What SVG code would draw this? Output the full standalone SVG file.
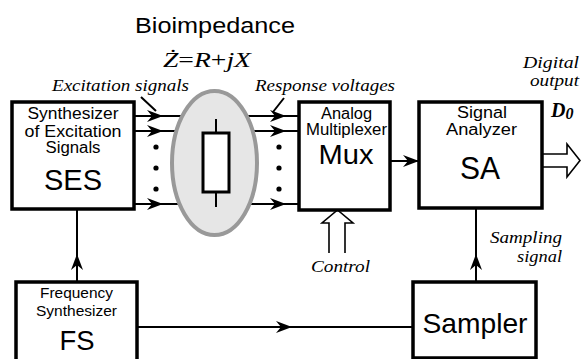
<svg xmlns="http://www.w3.org/2000/svg" xmlns:xlink="http://www.w3.org/1999/xlink" width="581" height="359" viewBox="0 0 581 359">
<style>
.box{fill:#fff;stroke:#000;stroke-width:3.5}
.ln{fill:none;stroke:#000;stroke-width:2}
.hollow{fill:#fff;stroke:#000;stroke-width:1.6}
.sans{font-family:"Liberation Sans",Arial,sans-serif;fill:#000}
.ital{font-family:"Liberation Serif","Times New Roman",serif;font-style:italic;fill:#000}
.up{font-style:normal}
</style>
<defs>
<path id="ah" d="M0,0 L-16,-6 L-11,0 L-16,6 Z" fill="#000"/>
<circle id="dot" r="2.6" fill="#000"/>
</defs>
<rect width="581" height="359" fill="#fff"/>

<g id="connectors">
<path class="ln" d="M134,116 H215 M134,131 H215 M134,204 H215"/>
<path class="ln" d="M215,116 H299 M215,131 H299 M215,204 H299"/>
<path class="ln" d="M390,161 H419"/>
<path class="ln" d="M77,209 V282"/>
<path class="ln" d="M137,327 H413"/>
<path class="ln" d="M476,208 V282"/>
<path class="ln" stroke-width="1.2" d="M141,97 L156,111 M284,98 L273,112"/>
<use xlink:href="#ah" transform="translate(163,116)"/>
<use xlink:href="#ah" transform="translate(163,131)"/>
<use xlink:href="#ah" transform="translate(163,204)"/>
<use xlink:href="#ah" transform="translate(286,116)"/>
<use xlink:href="#ah" transform="translate(286,131)"/>
<use xlink:href="#ah" transform="translate(286,204)"/>
<use xlink:href="#ah" transform="translate(419,161)"/>
<use xlink:href="#ah" transform="translate(77,254) rotate(-90)"/>
<use xlink:href="#ah" transform="translate(292,327)"/>
<use xlink:href="#ah" transform="translate(476,254) rotate(-90)"/>
<use xlink:href="#dot" x="156" y="147"/>
<use xlink:href="#dot" x="156" y="168"/>
<use xlink:href="#dot" x="156" y="189"/>
<use xlink:href="#dot" x="279" y="147"/>
<use xlink:href="#dot" x="279" y="168"/>
<use xlink:href="#dot" x="279" y="189"/>
<path class="hollow" d="M329,253 V223 H322 L337.5,210 L353,223 H345 V253"/>
<path class="hollow" d="M542,154 H567 V144 L580,160.5 L567,177 V167 H542"/>
</g>

<g id="bioimpedance">
<ellipse cx="214.5" cy="163" rx="42.5" ry="72" fill="#e6e6e6" stroke="#999" stroke-width="4"/>
<path class="ln" d="M216,119 V133 M216,192 V207"/>
<rect x="203" y="133" width="26" height="59" fill="#fff" stroke="#000" stroke-width="3"/>
<text class="sans" x="135" y="33" font-size="22" textLength="160" lengthAdjust="spacingAndGlyphs">Bioimpedance</text>
<text class="ital" x="163" y="67" font-size="21" textLength="88" lengthAdjust="spacingAndGlyphs">Ż<tspan class="up">=</tspan>R<tspan class="up">+</tspan>jX</text>
</g>

<g id="ses">
<rect class="box" x="12" y="102" width="122" height="107"/>
<text class="sans" x="73" y="119" font-size="16" text-anchor="middle" textLength="91" lengthAdjust="spacingAndGlyphs">Synthesizer</text>
<text class="sans" x="73" y="137" font-size="16" text-anchor="middle" textLength="97" lengthAdjust="spacingAndGlyphs">of Excitation</text>
<text class="sans" x="73" y="153" font-size="16" text-anchor="middle" textLength="55" lengthAdjust="spacingAndGlyphs">Signals</text>
<text class="sans" x="73" y="190" font-size="30" text-anchor="middle" textLength="58" lengthAdjust="spacingAndGlyphs">SES</text>
</g>

<g id="mux">
<rect class="box" x="299" y="102" width="91" height="108"/>
<text class="sans" x="346.5" y="119" font-size="16" text-anchor="middle" textLength="51" lengthAdjust="spacingAndGlyphs">Analog</text>
<text class="sans" x="346.5" y="135" font-size="16" text-anchor="middle" textLength="81" lengthAdjust="spacingAndGlyphs">Multiplexer</text>
<text class="sans" x="346" y="164" font-size="27" text-anchor="middle" textLength="55" lengthAdjust="spacingAndGlyphs">Mux</text>
</g>

<g id="sa">
<rect class="box" x="419" y="102" width="123" height="106"/>
<text class="sans" x="482" y="118" font-size="16" text-anchor="middle" textLength="50" lengthAdjust="spacingAndGlyphs">Signal</text>
<text class="sans" x="481.5" y="135" font-size="16" text-anchor="middle" textLength="71" lengthAdjust="spacingAndGlyphs">Analyzer</text>
<text class="sans" x="480" y="179" font-size="32" text-anchor="middle" textLength="40" lengthAdjust="spacingAndGlyphs">SA</text>
</g>

<g id="fs">
<rect class="box" x="16" y="282" width="121" height="82"/>
<text class="sans" x="76.5" y="298" font-size="14" text-anchor="middle" textLength="73" lengthAdjust="spacingAndGlyphs">Frequency</text>
<text class="sans" x="76.5" y="316" font-size="14" text-anchor="middle" textLength="81" lengthAdjust="spacingAndGlyphs">Synthesizer</text>
<text class="sans" x="77" y="350" font-size="28" text-anchor="middle" textLength="35" lengthAdjust="spacingAndGlyphs">FS</text>
</g>

<g id="sampler">
<rect class="box" x="413" y="282" width="123" height="76" stroke-width="3"/>
<text class="sans" x="475" y="333" font-size="28" text-anchor="middle" textLength="105" lengthAdjust="spacingAndGlyphs">Sampler</text>
</g>

<g id="labels">
<text class="ital" x="52" y="91" font-size="16" textLength="137" lengthAdjust="spacingAndGlyphs">Excitation signals</text>
<text class="ital" x="255" y="91" font-size="16" textLength="140" lengthAdjust="spacingAndGlyphs">Response voltages</text>
<text class="ital" x="523" y="68" font-size="17" textLength="56" lengthAdjust="spacingAndGlyphs">Digital</text>
<text class="ital" x="530" y="86" font-size="17" textLength="49" lengthAdjust="spacingAndGlyphs">output</text>
<text class="ital" x="551" y="117" font-size="20" font-weight="bold">D<tspan font-size="16" dy="1.5">0</tspan></text>
<text class="ital" x="490" y="243" font-size="16" textLength="72" lengthAdjust="spacingAndGlyphs">Sampling</text>
<text class="ital" x="517" y="262" font-size="16" textLength="45" lengthAdjust="spacingAndGlyphs">signal</text>
<text class="ital" x="311" y="272" font-size="16" textLength="59" lengthAdjust="spacingAndGlyphs">Control</text>
</g>
</svg>
